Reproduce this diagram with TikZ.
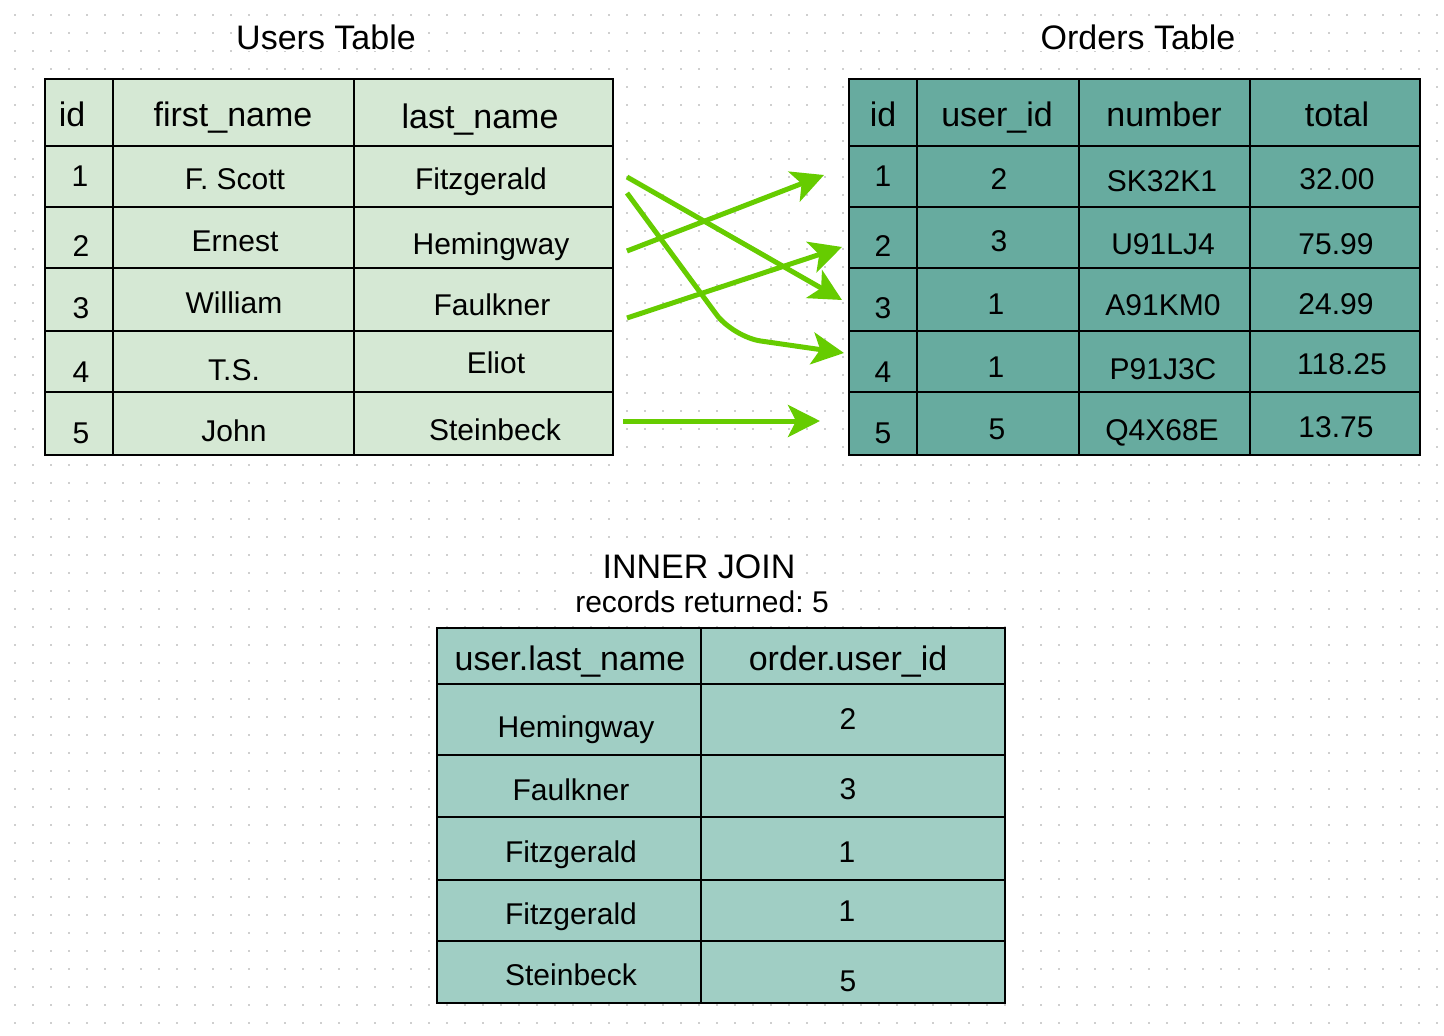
\documentclass[tikz,border=0pt]{standalone}
\usepackage{fontspec}
\setmainfont{Liberation Sans}
\usetikzlibrary{arrows.meta}
\frenchspacing
\definecolor{usersfill}{HTML}{D5E8D4}
\definecolor{ordersfill}{HTML}{67AB9F}
\definecolor{joinfill}{HTML}{A0CEC4}
\definecolor{arrowgreen}{HTML}{66CC00}
\definecolor{dotgray}{HTML}{CFCFCF}
\tikzset{
  gridrow/.style={draw=dotgray, line width=1.2pt, dash pattern=on 1.2pt off 16.8pt},
  tblline/.style={draw=black, line width=1.6pt},
  big/.style={anchor=base, inner sep=0pt, font=\fontsize{34}{40}\selectfont},
  txt/.style={anchor=base, inner sep=0pt, font=\fontsize{30}{36}\selectfont},
  titlebox/.style={anchor=base, fill=white, inner xsep=4pt, inner ysep=2pt},
  conn/.style={draw=arrowgreen, line width=5pt, -{Stealth[length=32pt, width=32pt, inset=8pt]}},
}
\begin{document}
\begin{tikzpicture}[x=1pt, y=-1pt]
\useasboundingbox[fill=white] (0,0) rectangle (1444,1036);
% dotted background grid
\foreach \yy in {15,33,...,1023} {
  \draw[gridrow] (14.4,\yy) -- (1440,\yy);
}
% ---------- titles ----------
\node[titlebox, font=\fontsize{34}{40}\selectfont] (t-users) at (326,49) {Users Table};
\node[titlebox, font=\fontsize{34}{40}\selectfont] (t-orders) at (1138,49) {Orders Table};
\node[titlebox, font=\fontsize{34}{40}\selectfont] (t-join) at (699,578) {INNER JOIN};
\node[titlebox, font=\fontsize{30}{36}\selectfont] (t-rec) at (702,612) {records returned: 5};
% ---------- users table ----------
\fill[usersfill] (45,79) rectangle (613,455);
\draw[tblline] (45,79) rectangle (613,455);
\foreach \yy in {146,207,268,331,392} \draw[tblline] (45,\yy) -- (613,\yy);
\draw[tblline] (113,79) -- (113,455);
\draw[tblline] (354,79) -- (354,455);
\node[big] (u-h1) at (72,126) {id};
\node[big] (u-h2) at (233,126) {first\_name};
\node[big] (u-h3) at (480,128) {last\_name};
\node[txt] (u-11) at (80,186) {1};
\node[txt] (u-12) at (235,189) {F. Scott};
\node[txt] (u-13) at (481,189) {Fitzgerald};
\node[txt] (u-21) at (81,256) {2};
\node[txt] (u-22) at (235,251) {Ernest};
\node[txt] (u-23) at (491,254) {Hemingway};
\node[txt] (u-31) at (81,318) {3};
\node[txt] (u-32) at (234,313) {William};
\node[txt] (u-33) at (492,315) {Faulkner};
\node[txt] (u-41) at (81,382) {4};
\node[txt] (u-42) at (234,380) {T.S.};
\node[txt] (u-43) at (496,373) {Eliot};
\node[txt] (u-51) at (81,443) {5};
\node[txt] (u-52) at (234,441) {John};
\node[txt] (u-53) at (495,440) {Steinbeck};
% ---------- orders table ----------
\fill[ordersfill] (849,79) rectangle (1420,455);
\draw[tblline] (849,79) rectangle (1420,455);
\foreach \yy in {146,207,268,331,392} \draw[tblline] (849,\yy) -- (1420,\yy);
\foreach \xx in {917,1079,1250} \draw[tblline] (\xx,79) -- (\xx,455);
\node[big] (o-h1) at (883,126) {id};
\node[big] (o-h2) at (997,126) {user\_id};
\node[big] (o-h3) at (1164,126) {number};
\node[big] (o-h4) at (1337,126) {total};
\node[txt] (o-11) at (883,186) {1};
\node[txt] (o-12) at (999,189) {2};
\node[txt] (o-13) at (1162,191) {SK32K1};
\node[txt] (o-14) at (1337,189) {32.00};
\node[txt] (o-21) at (883,256) {2};
\node[txt] (o-22) at (999,251) {3};
\node[txt] (o-23) at (1163,254) {U91LJ4};
\node[txt] (o-24) at (1336,254) {75.99};
\node[txt] (o-31) at (883,318) {3};
\node[txt] (o-32) at (996,314) {1};
\node[txt] (o-33) at (1163,315) {A91KM0};
\node[txt] (o-34) at (1336,314) {24.99};
\node[txt] (o-41) at (883,382) {4};
\node[txt] (o-42) at (996,377) {1};
\node[txt] (o-43) at (1163,379) {P91J3C};
\node[txt] (o-44) at (1342,374) {118.25};
\node[txt] (o-51) at (883,443) {5};
\node[txt] (o-52) at (997,439) {5};
\node[txt] (o-53) at (1162,440) {Q4X68E};
\node[txt] (o-54) at (1336,437) {13.75};
% ---------- join table ----------
\fill[joinfill] (437,628) rectangle (1005,1003);
\draw[tblline] (437,628) rectangle (1005,1003);
\foreach \yy in {684,755,817,880,941} \draw[tblline] (437,\yy) -- (1005,\yy);
\draw[tblline] (701,628) -- (701,1003);
\node[big] (j-h1) at (570,670) {user.last\_name};
\node[big] (j-h2) at (848,670) {order.user\_id};
\node[txt] (j-11) at (576,737) {Hemingway};
\node[txt] (j-12) at (848,729) {2};
\node[txt] (j-21) at (571,800) {Faulkner};
\node[txt] (j-22) at (848,799) {3};
\node[txt] (j-31) at (571,862) {Fitzgerald};
\node[txt] (j-32) at (847,862) {1};
\node[txt] (j-41) at (571,924) {Fitzgerald};
\node[txt] (j-42) at (847,921) {1};
\node[txt] (j-51) at (571,985) {Steinbeck};
\node[txt] (j-52) at (848,991) {5};
% ---------- connectors ----------
\coordinate (s1a) at (627,177);
\coordinate (s1b) at (627,193);
\coordinate (s2) at (627,251);
\coordinate (s3) at (627,318);
\coordinate (s5) at (623,421);
\coordinate (e1) at (824,175);
\coordinate (e2) at (842,247);
\coordinate (e3) at (842,300);
\coordinate (e4) at (844,353);
\coordinate (e5) at (820,421);
\coordinate (bend) at (733,337);
\draw[conn] (s1a) -- (e3);
\draw[conn, rounded corners=28pt] (s1b) -- (bend) -- (e4);
\draw[conn] (s2) -- (e1);
\draw[conn] (s3) -- (e2);
\draw[conn] (s5) -- (e5);
\end{tikzpicture}
\end{document}
